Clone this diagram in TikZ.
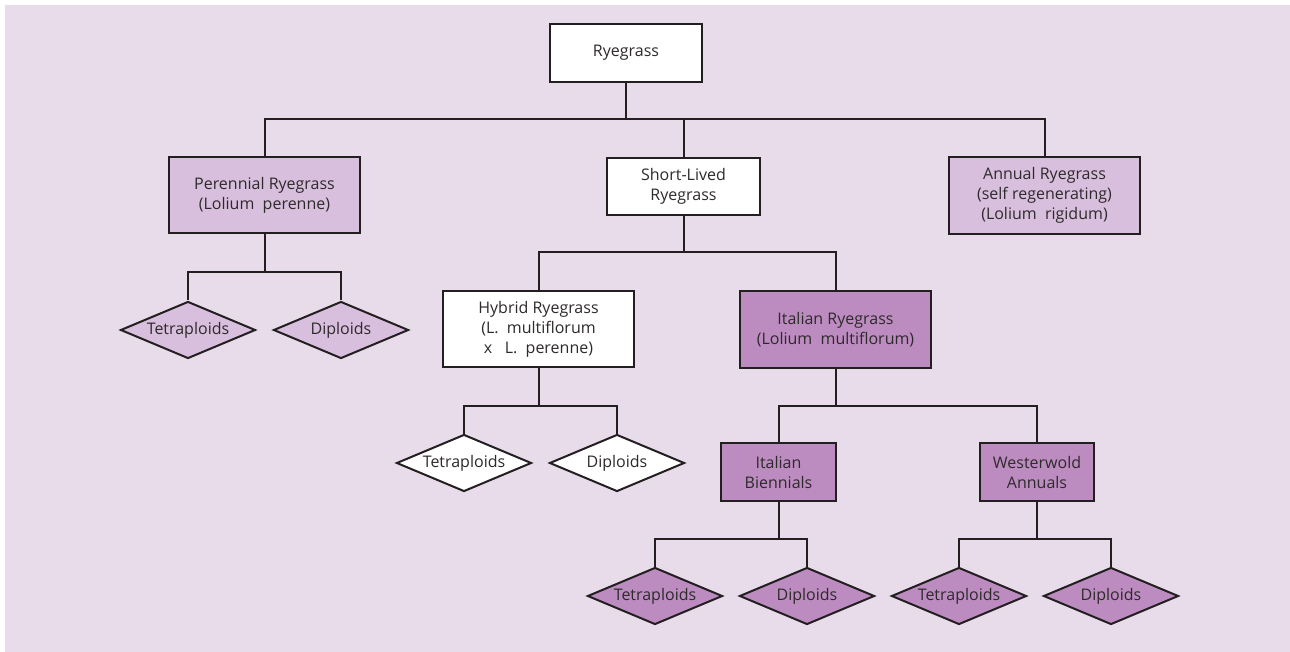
\documentclass[tikz,border=0pt]{standalone}
\usepackage{fontspec}
\setmainfont{Open Sans}
\usetikzlibrary{shapes.geometric}
\definecolor{bgLilac}{HTML}{E8DCEB}
\definecolor{paleLilac}{HTML}{D8BFDD}
\definecolor{deepLilac}{HTML}{BC8BC0}
\definecolor{inkGrey}{HTML}{231F20}
\definecolor{textGrey}{HTML}{2E2A2B}
\newcommand{\myBranch}[3]{
\coordinate (#1-bus) at (#1.south |- 0,#2);
\draw[link] (#1.south) -- (#1-bus);
\foreach \kid in {#3} {\draw[link] (#1-bus) -| (\kid.north);}
}

\begin{document}
\begin{tikzpicture}[x=1pt,y=-1pt,
	font=\fontsize{16}{20}\selectfont,
	link/.style={draw=inkGrey, line width=2pt},
	grassbox/.style={draw=inkGrey, line width=2.2pt, align=center, text=textGrey, inner sep=0pt},
	ploidy/.style={diamond, shape aspect=2.35, draw=inkGrey, line width=2pt, text=textGrey, inner sep=0pt, minimum width=135pt, minimum height=57pt}]
	% page and background
	\useasboundingbox (0,0) rectangle (1290,652);
	\fill[white] (0,0) rectangle (1290,652);
	\fill[bgLilac] (5,5) rectangle (1290,652);
	% ryegrass boxes
	\node[grassbox, fill=white, minimum width=152pt, minimum height=58pt] (rye) at (626,53) {Ryegrass};
	\node[grassbox, fill=paleLilac, minimum width=191pt, minimum height=76pt] (perennial) at (264.5,195) {Perennial Ryegrass\\(Lolium~ perenne)};
	\node[grassbox, fill=white, minimum width=153pt, minimum height=57pt] (shortlived) at (683.5,186.5) {Short-Lived\\Ryegrass};
	\node[grassbox, fill=paleLilac, minimum width=191pt, minimum height=77pt] (annual) at (1044.5,195.5) {Annual Ryegrass\\(self regenerating)\\(Lolium~ rigidum)};
	\node[grassbox, fill=white, minimum width=191pt, minimum height=76pt] (hybrid) at (538.5,329) {Hybrid Ryegrass\\(L.~ multiflorum\\x~~ L.~ perenne)};
	\node[grassbox, fill=deepLilac, minimum width=191pt, minimum height=77pt] (italian) at (835.5,329.5) {Italian Ryegrass\\(Lolium~ multiflorum)};
	\node[grassbox, fill=deepLilac, minimum width=115pt, minimum height=58pt] (biennial) at (778.5,472) {Italian\\Biennials};
	\node[grassbox, fill=deepLilac, minimum width=114pt, minimum height=58pt] (westerwold) at (1037,472) {Westerwold\\Annuals};
	% ploidy diamonds
	\node[ploidy, fill=paleLilac] (perTetra) at (188,330) {Tetraploids};
	\node[ploidy, fill=paleLilac] (perDi) at (341,330) {Diploids};
	\node[ploidy, fill=white] (hybTetra) at (464,463) {Tetraploids};
	\node[ploidy, fill=white] (hybDi) at (617,463) {Diploids};
	\node[ploidy, fill=deepLilac] (bieTetra) at (655,596) {Tetraploids};
	\node[ploidy, fill=deepLilac] (bieDi) at (807,596) {Diploids};
	\node[ploidy, fill=deepLilac] (wesTetra) at (959,596) {Tetraploids};
	\node[ploidy, fill=deepLilac] (wesDi) at (1111,596) {Diploids};
	% connecting branches
	\myBranch{rye}{119}{perennial,shortlived,annual}
	\myBranch{perennial}{272}{perTetra,perDi}
	\myBranch{shortlived}{252}{hybrid,italian}
	\myBranch{hybrid}{406}{hybTetra,hybDi}
	\myBranch{italian}{406}{biennial,westerwold}
	\myBranch{biennial}{539}{bieTetra,bieDi}
	\myBranch{westerwold}{539}{wesTetra,wesDi}
\end{tikzpicture}
\end{document}
